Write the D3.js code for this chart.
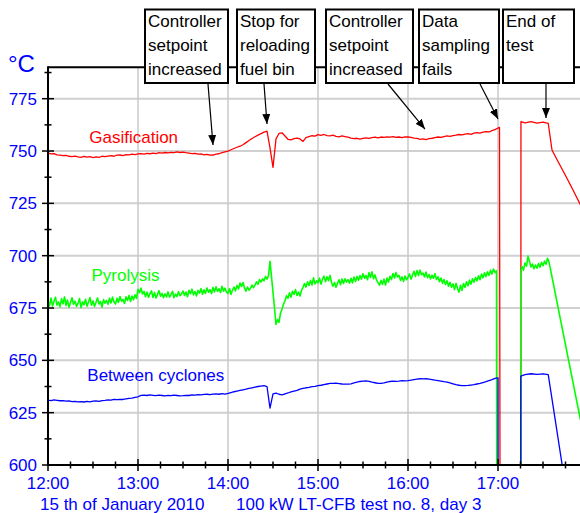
<!DOCTYPE html>
<html><head><meta charset="utf-8">
<script src="https://cdn.jsdelivr.net/npm/d3@7"></script>
<style>body{margin:0;background:#fff}svg{display:block;font-family:"Liberation Sans",Arial,Helvetica,sans-serif}</style>
</head><body><svg id="c" width="580" height="513"></svg>
<script>
// ---- data (time = minutes after 12:00, 15th of January 2010) ----
const yMajorTicks = [600, 625, 650, 675, 700, 725, 750, 775];
const yMinorTicks = [612.5, 637.5, 662.5, 687.5, 712.5, 737.5, 762.5, 787.5];
const xHourTicks = [0, 60, 120, 180, 240, 300];
const xHourLabels = ["12:00", "13:00", "14:00", "15:00", "16:00", "17:00"];
const xMinorTicks = [15, 30, 45, 75, 90, 105, 135, 150, 165, 195, 210, 225, 255, 270, 285, 315, 330, 345];
const seriesNames = ["Gasification", "Pyrolysis", "Between cyclones"];
const seriesColors = ["#ff0000", "#00ff00", "#0000ff"];

// Gasification, sampled every 2 min from 12:00 to 17:00
const gasStep = 2;
const gasValues = [
 749.0,748.6,748.8,748.2,748.0,747.8,747.9,747.5,747.3,747.6,
 747.2,747.0,747.4,747.1,747.3,746.9,747.2,747.0,747.5,747.3,
 747.6,747.8,747.5,748.0,748.1,747.8,748.3,748.2,748.5,748.3,
 748.6,748.8,748.5,748.9,748.7,749.0,748.8,749.2,749.0,749.3,
 749.1,749.4,749.2,749.6,749.3,749.5,749.2,749.0,748.8,748.9,
 748.5,748.6,748.2,748.4,748.0,748.1,748.5,748.7,749.2,749.6,
 750.0,750.6,751.2,751.8,752.3,753.0,754.0,755.0,756.0,756.8,
 757.6,758.3,759.0,759.5,751.5,742.2,755.8,758.4,758.7,757.2,
 755.6,755.3,755.9,756.2,755.8,754.6,756.4,756.9,757.3,757.1,
 757.8,757.5,757.9,757.4,757.2,757.6,757.0,756.8,757.2,756.9,
 756.6,756.2,755.9,756.1,755.7,756.0,756.3,756.0,756.4,756.6,
 756.3,756.7,756.5,756.8,756.6,756.9,756.5,756.7,756.4,756.8,
 756.7,756.5,756.2,756.0,755.6,755.8,755.5,755.9,756.1,756.4,
 756.7,756.5,756.9,757.2,757.0,757.4,757.6,757.9,757.7,758.1,
 758.3,758.0,758.5,758.8,758.6,759.0,759.3,759.1,759.7,760.2,
 761.0
];
const gasTail = [[301,761.3],[302.5,0],[315,0],[315.3,764.0],[318,763.5],[322,764.0],[326,763.3],[330,763.8],[333.5,763.2],[336,750.5],[340,745.0],[345,738.3],[350,731.4],[355,724.2]];

// Pyrolysis, sampled every 1 min from 12:00 to 16:59
const pyrStep = 1;
const pyrValues = [
 678.5,676.0,679.8,675.9,678.2,680.1,676.4,677.9,675.6,679.4,
 677.0,680.3,676.2,678.8,675.4,677.6,679.9,676.8,678.3,675.8,
 677.1,679.5,675.2,678.0,676.5,679.2,675.9,677.8,680.0,676.3,
 678.4,675.7,677.6,679.8,676.9,678.1,675.5,679.0,677.3,678.6,
 676.8,679.7,677.4,680.2,678.0,676.9,679.6,677.7,680.5,678.3,
 679.1,677.2,680.4,678.6,681.0,678.1,680.7,679.0,681.3,679.6,
 683.9,682.3,684.5,681.7,683.0,680.4,682.6,680.1,681.9,683.2,
 680.0,682.4,679.8,681.5,683.3,680.6,682.0,679.9,681.8,680.3,
 682.7,680.2,681.4,683.0,679.9,681.6,680.5,682.8,680.9,681.7,
 683.1,681.0,682.6,680.4,683.5,681.8,684.0,681.3,682.9,680.8,
 683.4,682.1,684.3,681.6,683.7,682.0,684.6,682.5,683.8,681.9,
 684.8,682.7,685.1,683.0,684.2,682.4,685.4,683.1,684.5,682.6,
 682.0,684.3,681.5,683.6,685.0,683.2,685.8,684.1,686.9,685.3,
 687.2,684.6,683.0,685.0,683.5,684.4,686.0,684.7,685.9,687.5,
 686.3,688.6,687.4,689.0,688.0,690.1,688.8,690.5,697.3,690.0,
 682.5,675.0,667.2,669.5,668.2,672.5,674.4,676.8,678.5,680.9,
 679.6,682.3,680.2,683.0,681.5,683.8,681.0,682.6,680.7,683.4,
 684.9,686.7,685.0,687.5,685.8,688.2,686.0,689.4,686.5,688.0,
 687.0,689.3,686.4,688.8,690.2,687.6,689.9,688.1,690.6,687.3,
 685.4,687.2,684.9,686.8,688.5,686.1,688.9,686.7,689.0,687.4,
 688.6,686.9,689.2,687.0,689.8,687.7,690.1,688.3,690.5,688.8,
 691.4,689.2,690.6,688.5,691.9,689.6,692.3,689.0,690.8,688.4,
 687.1,685.9,688.2,686.3,688.8,686.0,689.3,687.4,690.2,688.6,
 691.5,689.3,692.0,689.8,690.6,688.2,689.9,687.7,690.3,688.5,
 689.6,691.3,688.8,690.7,692.6,690.1,692.9,690.5,693.1,690.9,
 691.7,689.8,692.2,689.5,691.0,688.9,690.7,689.2,691.4,688.6,
 689.9,687.6,689.3,686.8,688.6,686.2,688.0,685.4,687.3,684.9,
 686.5,683.8,686.8,684.3,682.6,685.9,683.4,686.7,684.8,687.5,
 685.6,688.3,686.4,689.0,687.3,689.6,688.0,690.4,688.5,691.2,
 689.4,691.8,690.0,692.3,690.6,693.0,691.2,693.6,692.0,692.8
];
const pyrTail = [[300,0],[315,0],[315.2,692.5],[316,694.8],[317,693.1],[318,696.5],[319,695.0],[320,699.8],[321,697.2],[322,694.6],[323,696.0],[324,693.8],[325,695.5],[326,694.0],[327,696.3],[328,694.5],[329,696.8],[330,695.2],[331,697.4],[332,695.9],[333,698.8],[334,697.0],[355,621.5]];

// Between cyclones, sampled every 2 min from 12:00 to 17:00
const cycStep = 2;
const cycValues = [
 631.0,630.8,631.1,630.9,630.7,630.8,630.5,630.6,630.3,630.4,
 630.2,630.3,630.1,630.4,630.2,630.5,630.6,630.4,630.8,630.9,
 631.1,631.0,631.3,631.2,631.4,631.3,631.6,631.8,632.0,632.3,
 632.6,633.3,633.4,633.2,633.5,633.3,633.1,633.4,633.2,633.0,
 633.3,633.1,633.4,633.2,633.0,633.1,633.3,633.2,633.5,633.4,
 633.6,633.5,633.7,633.8,633.6,633.9,634.0,633.8,634.1,633.9,
 634.2,634.6,635.0,635.3,635.6,635.9,636.2,636.6,636.9,637.2,
 637.5,637.7,637.9,637.5,627.2,634.0,634.3,633.8,633.5,634.0,
 634.4,634.9,635.3,635.7,636.2,636.6,636.9,637.1,637.4,637.6,
 637.9,638.1,638.4,638.7,639.0,639.0,639.1,638.9,638.7,638.6,
 638.6,638.8,639.2,639.6,639.9,640.1,640.2,640.0,639.6,639.3,
 639.0,639.0,639.2,639.6,639.9,640.1,640.0,640.1,640.3,640.2,
 640.3,640.5,640.8,641.0,641.2,641.1,641.2,641.0,640.8,640.5,
 640.3,640.1,639.8,639.6,639.2,638.8,638.4,638.1,637.9,637.9,
 638.0,638.2,638.4,638.7,639.0,639.4,639.8,640.3,640.8,641.4,
 641.6
];
const cycTail = [[300.5,0],[315,0],[315.2,642.5],[318,643.2],[322,643.6],[326,643.3],[330,643.5],[333.5,643.2],[343,599.0],[350,566.0]];

// annotations: box text and arrow tip (minute, °C)
const noteLines = [
 ["Controller","setpoint","increased"],
 ["Stop for","reloading","fuel bin"],
 ["Controller","setpoint","increased"],
 ["Data","sampling","fails"],
 ["End of","test"]
];
const noteTips = [[110,752.9],[146,762.9],[251.3,760.5],[300,765.3],[332,765.8]];
const labelAnchors = [[27.5,753.8],[29,687.7],[26.2,640.1]];

// ---- layout ----
const W = 580, H = 513;
const x0 = 48, x1 = 580.5, yTop = 67.3, yBot = 465;
const boxX = [145, 237, 326, 419, 503];
const boxW = [83, 78, 87, 80, 71];
const arrowStartX = [208, 264, 388, 480, 546];
const lineWidths = [1.3, 1.6, 1.3];
const blue = "#0000ff";

const svg = d3.select("#c");
const x = d3.scaleLinear().domain([0, 355]).range([x0, x1]);
const y = d3.scaleLinear().domain([600, 790]).range([yBot, yTop]);

// grid
const g = svg.append("g");
g.selectAll(".hg").data(yMajorTicks.slice(1)).join("line")
  .attr("x1", x0).attr("x2", W).attr("y1", d => y(d)).attr("y2", d => y(d))
  .attr("stroke", "#d0d0d0").attr("stroke-width", 2);
g.selectAll(".vg").data(xHourTicks.slice(1)).join("line")
  .attr("x1", d => x(d)).attr("x2", d => x(d)).attr("y1", yTop).attr("y2", yBot)
  .attr("stroke", "#c8c8c8").attr("stroke-width", 1.5);

// data lines
svg.append("clipPath").attr("id", "clip").append("rect")
  .attr("x", x0).attr("y", yTop).attr("width", W - x0).attr("height", yBot - yTop);
function build(values, step, tail) {
  return values.map((v, i) => [i * step, v]).concat(tail);
}
const series = [build(gasValues, gasStep, gasTail), build(pyrValues, pyrStep, pyrTail), build(cycValues, cycStep, cycTail)];
const line = d3.line().x(d => x(d[0])).y(d => y(d[1]));
const lg = svg.append("g").attr("clip-path", "url(#clip)");
series.forEach((s, i) => {
  lg.append("path").attr("d", line(s)).attr("fill", "none")
    .attr("stroke", seriesColors[i]).attr("stroke-width", lineWidths[i]).attr("stroke-linejoin", "round");
});

// series labels
seriesNames.forEach((n, i) => {
  svg.append("text").attr("x", x(labelAnchors[i][0])).attr("y", y(labelAnchors[i][1]))
    .attr("fill", seriesColors[i]).attr("font-size", 17).text(n);
});

// axes frame
svg.append("line").attr("x1", x0).attr("x2", W).attr("y1", yTop).attr("y2", yTop).attr("stroke", "#000").attr("stroke-width", 2);
svg.append("line").attr("x1", x0).attr("x2", x0).attr("y1", yTop - 1).attr("y2", yBot + 1).attr("stroke", "#000").attr("stroke-width", 2);
svg.append("line").attr("x1", x0 - 1).attr("x2", W).attr("y1", yBot).attr("y2", yBot).attr("stroke", "#000").attr("stroke-width", 2);

// y ticks
svg.selectAll(".ymj").data(yMajorTicks).join("line")
  .attr("x1", x0 - 6).attr("x2", x0 + 6).attr("y1", d => y(d)).attr("y2", d => y(d))
  .attr("stroke", "#000").attr("stroke-width", 1.5);
svg.selectAll(".ymn").data(yMinorTicks).join("line")
  .attr("x1", x0 - 3.5).attr("x2", x0 + 3.5).attr("y1", d => y(d)).attr("y2", d => y(d))
  .attr("stroke", "#000").attr("stroke-width", 1.5);
svg.selectAll(".ylab").data(yMajorTicks).join("text")
  .attr("x", 37).attr("y", d => y(d)).attr("dy", "0.36em").attr("text-anchor", "end")
  .attr("fill", blue).attr("font-size", 17).text(d => d);

// x ticks
svg.selectAll(".xmj").data(xHourTicks).join("line")
  .attr("x1", d => x(d)).attr("x2", d => x(d)).attr("y1", yBot - 6).attr("y2", yBot + 6)
  .attr("stroke", "#000").attr("stroke-width", 1.5);
svg.selectAll(".xmn").data(xMinorTicks).join("line")
  .attr("x1", d => x(d)).attr("x2", d => x(d)).attr("y1", yBot - 3.5).attr("y2", yBot + 3.5)
  .attr("stroke", "#000").attr("stroke-width", 1.5);
svg.selectAll(".xlab").data(xHourTicks).join("text")
  .attr("x", d => x(d)).attr("y", 489).attr("text-anchor", "middle")
  .attr("fill", blue).attr("font-size", 17).text((d, i) => xHourLabels[i]);

// unit and footer
svg.append("text").attr("x", 8).attr("y", 72).attr("fill", blue).attr("font-size", 24).text("°C");
svg.append("text").attr("x", 40).attr("y", 510).attr("fill", blue).attr("font-size", 17).text("15 th of January 2010");
svg.append("text").attr("x", 236).attr("y", 510).attr("fill", blue).attr("font-size", 17).text("100 kW LT-CFB test no. 8, day 3");

// annotations
svg.append("defs").append("marker").attr("id", "arr").attr("viewBox", "0 0 10 8")
  .attr("refX", 10).attr("refY", 4).attr("markerWidth", 10).attr("markerHeight", 8)
  .attr("markerUnits", "userSpaceOnUse").attr("orient", "auto")
  .append("path").attr("d", "M0,0L10,4L0,8Z").attr("fill", "#000");
noteLines.forEach((lines, i) => {
  svg.append("line").attr("x1", arrowStartX[i]).attr("y1", 84)
    .attr("x2", x(noteTips[i][0])).attr("y2", y(noteTips[i][1]))
    .attr("stroke", "#000").attr("stroke-width", 1.2).attr("marker-end", "url(#arr)");
  svg.append("rect").attr("x", boxX[i]).attr("y", 9.5).attr("width", boxW[i]).attr("height", 73.5)
    .attr("fill", "#fff").attr("stroke", "#000").attr("stroke-width", 2);
  lines.forEach((t, j) => {
    svg.append("text").attr("x", boxX[i] + 3).attr("y", 26.5 + j * 24)
      .attr("fill", "#000").attr("font-size", 17).text(t);
  });
});
</script></body></html>
